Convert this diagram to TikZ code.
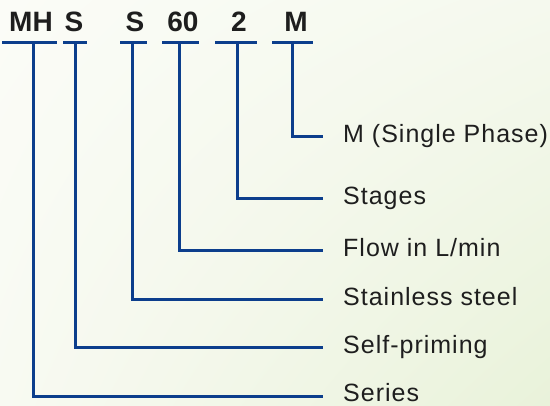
\documentclass[tikz,border=0pt]{standalone}
\usepackage{fontspec}
\usetikzlibrary{shadings}
\setmainfont{Liberation Sans}
\newfontfamily\labfont[LetterSpace=4]{Liberation Sans}
\definecolor{linkblue}{RGB}{12,62,140}
\definecolor{txt}{RGB}{30,30,30}
\definecolor{bgA}{RGB}{251,252,247}
\definecolor{bgB}{RGB}{245,249,238}
\definecolor{bgC}{RGB}{248,250,242}
\definecolor{bgD}{RGB}{233,242,218}
\begin{document}
\begin{tikzpicture}[x=1pt,y=-1pt,
  code/.style={anchor=base,inner sep=0pt,text=txt,font=\fontsize{28}{30}\selectfont\bfseries},
  lab/.style={anchor=base west,inner sep=0pt,text=txt,font=\fontsize{25}{28}\selectfont\labfont},
  bar/.style={draw=linkblue,line width=3pt},
  conn/.style={draw=linkblue,line width=3pt}]
\shade[upper left=bgA,upper right=bgB,lower left=bgC,lower right=bgD] (0,0) rectangle (550,406);
\useasboundingbox (0,0) rectangle (550,406);
% codes
\node[code] (cMH) at (31,32) {MH};
\node[code] (cS1) at (74,32) {S};
\node[code] (cS2) at (135,32) {S};
\node[code] (c60) at (183,32) {60};
\node[code] (c2) at (239,32) {2};
\node[code] (cM) at (296,32) {M};
% bars
\draw[bar] (2,43) -- (57,43);
\draw[bar] (63,43) -- (87,43);
\draw[bar] (120,43) -- (147,43);
\draw[bar] (162,43) -- (199,43);
\draw[bar] (215,43) -- (257,43);
\draw[bar] (272,43) -- (313,43);
% labels
\node[lab] (lM) at (343,143) {M (Single Phase)};
\node[lab] (l2) at (343,205) {Stages};
\node[lab] (l60) at (343,257) {Flow in L/min};
\node[lab] (lS2) at (343,306) {Stainless steel};
\node[lab] (lS1) at (343,354) {Self-priming};
\node[lab] (lMH) at (343,402) {Series};
% connector points
\coordinate (tM) at (292,43);  \coordinate (eM) at (323,137);
\coordinate (t2) at (237,43);  \coordinate (e2) at (323,199);
\coordinate (t60) at (179,43); \coordinate (e60) at (323,251);
\coordinate (tS2) at (132,43); \coordinate (eS2) at (323,300);
\coordinate (tS1) at (75,43);  \coordinate (eS1) at (323,348);
\coordinate (tMH) at (33,43);  \coordinate (eMH) at (323,397);
\draw[conn] (tM) |- (eM);
\draw[conn] (t2) |- (e2);
\draw[conn] (t60) |- (e60);
\draw[conn] (tS2) |- (eS2);
\draw[conn] (tS1) |- (eS1);
\draw[conn] (tMH) |- (eMH);
\end{tikzpicture}
\end{document}
